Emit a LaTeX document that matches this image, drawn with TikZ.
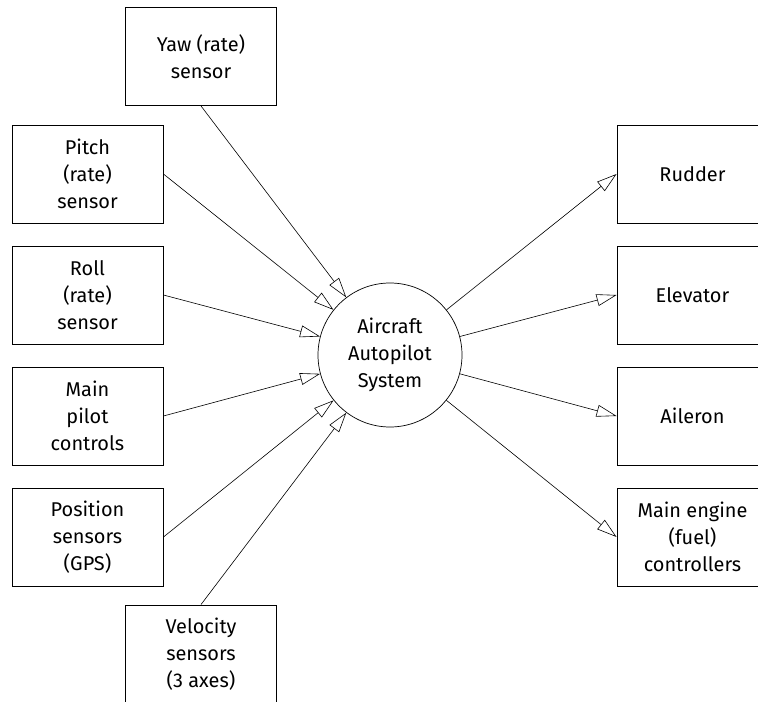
\documentclass[tikz,border=0pt]{standalone}
\usepackage{fontspec}
\setmainfont{Fira Sans}
\usetikzlibrary{arrows.meta}
\begin{document}
\begin{tikzpicture}[x=1bp,y=-1bp,
  box/.style={draw, line width=0.9bp, minimum width=151bp, minimum height=98bp, inner sep=0pt, align=center, font=\fontsize{20}{27}\selectfont},
  hub/.style={draw, circle, line width=0.7bp, minimum size=144bp, inner sep=0pt, align=center, font=\fontsize{20}{27}\selectfont},
  conn/.style={line width=0.6bp, -{Triangle[open, length=20bp, width=12bp]}}]
\useasboundingbox (0,0) rectangle (758,702);
\clip (0,0) rectangle (758,702);
\node[box] (yaw) at (201,56.5) {Yaw (rate)\\sensor};
\node[box] (pitch) at (87.5,174) {Pitch\\(rate)\\sensor};
\node[box] (roll) at (87.5,295) {Roll\\(rate)\\sensor};
\node[box] (pilot) at (87.5,416) {Main\\pilot\\controls};
\node[box] (gps) at (87.5,537) {Position\\sensors\\(GPS)};
\node[box] (vel) at (201,654) {Velocity\\sensors\\(3 axes)};
\node[hub] (ap) at (390,355) {Aircraft\\Autopilot\\System};
\node[box] (rud) at (692.5,174) {Rudder};
\node[box] (elev) at (692.5,295) {Elevator};
\node[box] (ail) at (692.5,416) {Aileron};
\node[box] (eng) at (692.5,537) {Main engine\\(fuel)\\controllers};
\draw[conn] (yaw.south) -- (ap);
\draw[conn] (pitch.east) -- (ap);
\draw[conn] (roll.east) -- (ap);
\draw[conn] (pilot.east) -- (ap);
\draw[conn] (gps.east) -- (ap);
\draw[conn] (vel.north) -- (ap);
\draw[conn] (ap) -- (rud.west);
\draw[conn] (ap) -- (elev.west);
\draw[conn] (ap) -- (ail.west);
\draw[conn] (ap) -- (eng.west);
\end{tikzpicture}
\end{document}
